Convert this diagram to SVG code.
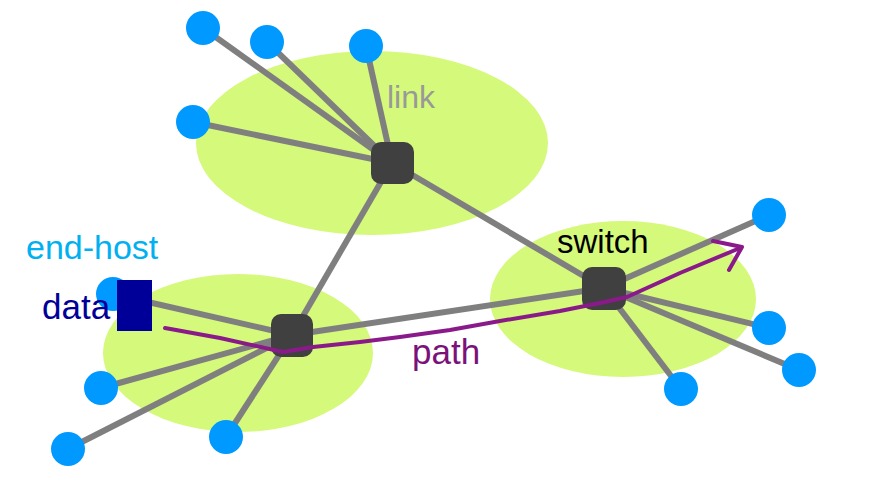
<svg xmlns="http://www.w3.org/2000/svg" width="880" height="482" viewBox="0 0 880 482">
<style>
.area{fill:#d5f97a}
.edge{stroke:#7f7f7f;stroke-width:6;fill:none}
.host{fill:#0099ff}
.sw{fill:#404040}
.lbl{font-family:"Liberation Sans",Arial,sans-serif}
.path{stroke:#8a1a8a;stroke-width:4;fill:none;stroke-linejoin:round;stroke-linecap:round}
</style>
<rect width="880" height="482" fill="#ffffff"/>
<g id="areas">
<ellipse class="area" cx="372" cy="143" rx="176" ry="92"/>
<ellipse class="area" cx="238" cy="353" rx="135" ry="79"/>
<ellipse class="area" cx="623" cy="299" rx="133" ry="78"/>
</g>
<g id="connectors">
<line class="edge" x1="392" y1="163" x2="203" y2="28"/>
<line class="edge" x1="392" y1="163" x2="267" y2="42"/>
<line class="edge" x1="392" y1="163" x2="366" y2="46"/>
<line class="edge" x1="392" y1="163" x2="193" y2="122"/>
<line class="edge" x1="392" y1="163" x2="292" y2="335"/>
<line class="edge" x1="392" y1="163" x2="604" y2="288"/>
<line class="edge" x1="292" y1="335" x2="604" y2="288"/>
<line class="edge" x1="292" y1="335" x2="113" y2="294"/>
<line class="edge" x1="292" y1="335" x2="101" y2="388"/>
<line class="edge" x1="292" y1="335" x2="68" y2="449"/>
<line class="edge" x1="292" y1="335" x2="226" y2="437"/>
<line class="edge" x1="604" y1="288" x2="769" y2="215"/>
<line class="edge" x1="604" y1="288" x2="769" y2="328"/>
<line class="edge" x1="604" y1="288" x2="799" y2="370"/>
<line class="edge" x1="604" y1="288" x2="681" y2="389"/>
</g>
<g id="host-t1"><circle class="host" cx="203" cy="28" r="17"/></g>
<g id="host-t2"><circle class="host" cx="267" cy="42" r="17"/></g>
<g id="host-t3"><circle class="host" cx="366" cy="46" r="17"/></g>
<g id="host-t4"><circle class="host" cx="193" cy="122" r="17"/></g>
<g id="host-l1"><circle class="host" cx="113" cy="294" r="17"/></g>
<g id="host-l2"><circle class="host" cx="101" cy="388" r="17"/></g>
<g id="host-l3"><circle class="host" cx="68" cy="449" r="17"/></g>
<g id="host-l4"><circle class="host" cx="226" cy="437" r="17"/></g>
<g id="host-r1"><circle class="host" cx="769" cy="215" r="17"/></g>
<g id="host-r2"><circle class="host" cx="769" cy="328" r="17"/></g>
<g id="host-r3"><circle class="host" cx="799" cy="370" r="17"/></g>
<g id="host-r4"><circle class="host" cx="681" cy="389" r="17"/></g>
<g id="switch-top"><rect class="sw" x="371" y="142" width="43" height="42" rx="10"/></g>
<g id="switch-left"><rect class="sw" x="271" y="314" width="42" height="43" rx="10"/></g>
<g id="switch-right"><rect class="sw" x="582" y="267" width="44" height="43" rx="10"/></g>
<g id="data"><rect x="117" y="280" width="35" height="51" fill="#000099"/></g>
<g id="path-arrow">
<path class="path" d="M165,328 L220,338 L283,352 L313,347 L360,342 L400,337 L450,330 L500,321 L560,311 L600,303 L627,297 L680,273 L740,248"/>
<polyline class="path" points="713,241 742,247 729,270"/>
</g>
<g id="labels">
<text class="lbl" x="387" y="108" font-size="32" fill="#999999">link</text>
<text class="lbl" x="26" y="259" font-size="34" fill="#00b0f0">end-host</text>
<text class="lbl" x="42" y="319" font-size="35" fill="#000099">data</text>
<text class="lbl" x="557" y="253" font-size="33" fill="#000000">switch</text>
<text class="lbl" x="412" y="364" font-size="35" fill="#7a127a">path</text>
</g>
</svg>
